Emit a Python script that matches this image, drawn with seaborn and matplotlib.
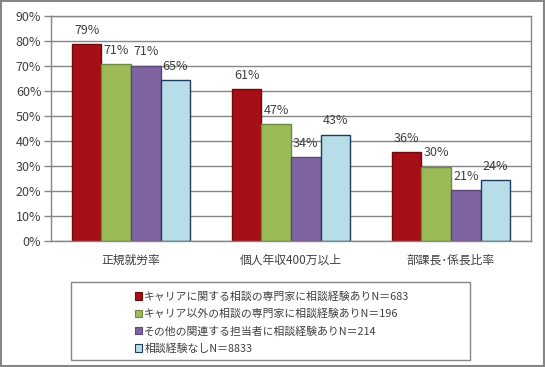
import matplotlib
matplotlib.use("Agg")
import matplotlib.pyplot as plt
from matplotlib.patches import Rectangle, Patch
import pandas as pd
import seaborn as sns

categories = ["正規就労率", "個人年収400万以上", "部課長･係長比率"]
groups = [
    "キャリアに関する相談の専門家に相談経験ありN＝683",
    "キャリア以外の相談の専門家に相談経験ありN＝196",
    "その他の関連する担当者に相談経験ありN＝214",
    "相談経験なしN＝8833",
]
values = [
    [78.8, 60.7, 35.6],
    [70.7, 46.7, 29.8],
    [70.2, 33.6, 20.4],
    [64.4, 42.6, 24.4],
]
labels = [
    ["79%", "61%", "36%"],
    ["71%", "47%", "30%"],
    ["71%", "34%", "21%"],
    ["65%", "43%", "24%"],
]
colors = ["#A50F15", "#9BBB59", "#8064A2", "#B7DEE8"]
edges = ["#6E0A0E", "#71893F", "#5C4776", "#1F3B5C"]

rows = []
for g, vals in zip(groups, values):
    for c, v in zip(categories, vals):
        rows.append({"cat": c, "grp": g, "val": v})
df = pd.DataFrame(rows)

sns.set_style("white")
plt.rcParams["font.family"] = ["Noto Sans CJK JP", "DejaVu Sans"]
txt = "#404040"
grid = "#868686"

fig = plt.figure(figsize=(5.45, 3.67), dpi=100)
ax = fig.add_axes([51 / 545, 1 - 241 / 367, 480 / 545, 225 / 367])

sns.barplot(data=df, x="cat", y="val", hue="grp", hue_order=groups,
            palette=colors, saturation=1, width=0.74, ax=ax, legend=False)

for cont, ec, labs in zip(ax.containers, edges, labels):
    for bar, lab in zip(cont, labs):
        bar.set_edgecolor(ec)
        bar.set_linewidth(1)
        ax.annotate(lab, (bar.get_x() + bar.get_width() / 2, bar.get_height()),
                    xytext=(0, 10), textcoords="offset points",
                    ha="center", va="center", fontsize=9, color=txt)

ax.set_ylim(0, 90)
ax.set_xlim(-0.5, 2.5)
ax.set_yticks(range(0, 91, 10))
ax.set_yticklabels([f"{t}%" for t in range(0, 91, 10)], fontsize=9, color=txt)
ax.yaxis.grid(True, color=grid, lw=1)
ax.set_axisbelow(True)
ax.tick_params(axis="y", left=True, length=5, color=grid, width=1, pad=2)
ax.tick_params(axis="x", which="major", length=0, pad=9, labelsize=8.5, labelcolor=txt)
ax.set_xticks([0.5, 1.5, 2.5], minor=True)
ax.tick_params(axis="x", which="minor", length=5, color=grid, width=1)
ax.set_xlabel("")
ax.set_ylabel("")
for s in ax.spines.values():
    s.set_color(grid)
    s.set_linewidth(1)
    s.set_visible(True)

# outer chart border
fig.patches.append(Rectangle((0.001, 0.002), 0.997, 0.996, transform=fig.transFigure,
                             fill=False, edgecolor=grid, lw=1.5))
# legend box
fig.patches.append(Rectangle((71 / 545, 1 - 360 / 367), 399 / 545, 78 / 367,
                             transform=fig.transFigure, fill=False, edgecolor=grid, lw=1))
handles = [Patch(facecolor=c, edgecolor=e, lw=0.8) for c, e in zip(colors, edges)]
fig.legend(handles, groups, loc="center", bbox_to_anchor=(272 / 545, 1 - 322.5 / 367),
           frameon=False, fontsize=7.8, handlelength=0.7, handleheight=0.7,
           handletextpad=0.2, labelspacing=0.6, labelcolor=txt, borderpad=0)

plt.savefig("out.png", dpi=100)
